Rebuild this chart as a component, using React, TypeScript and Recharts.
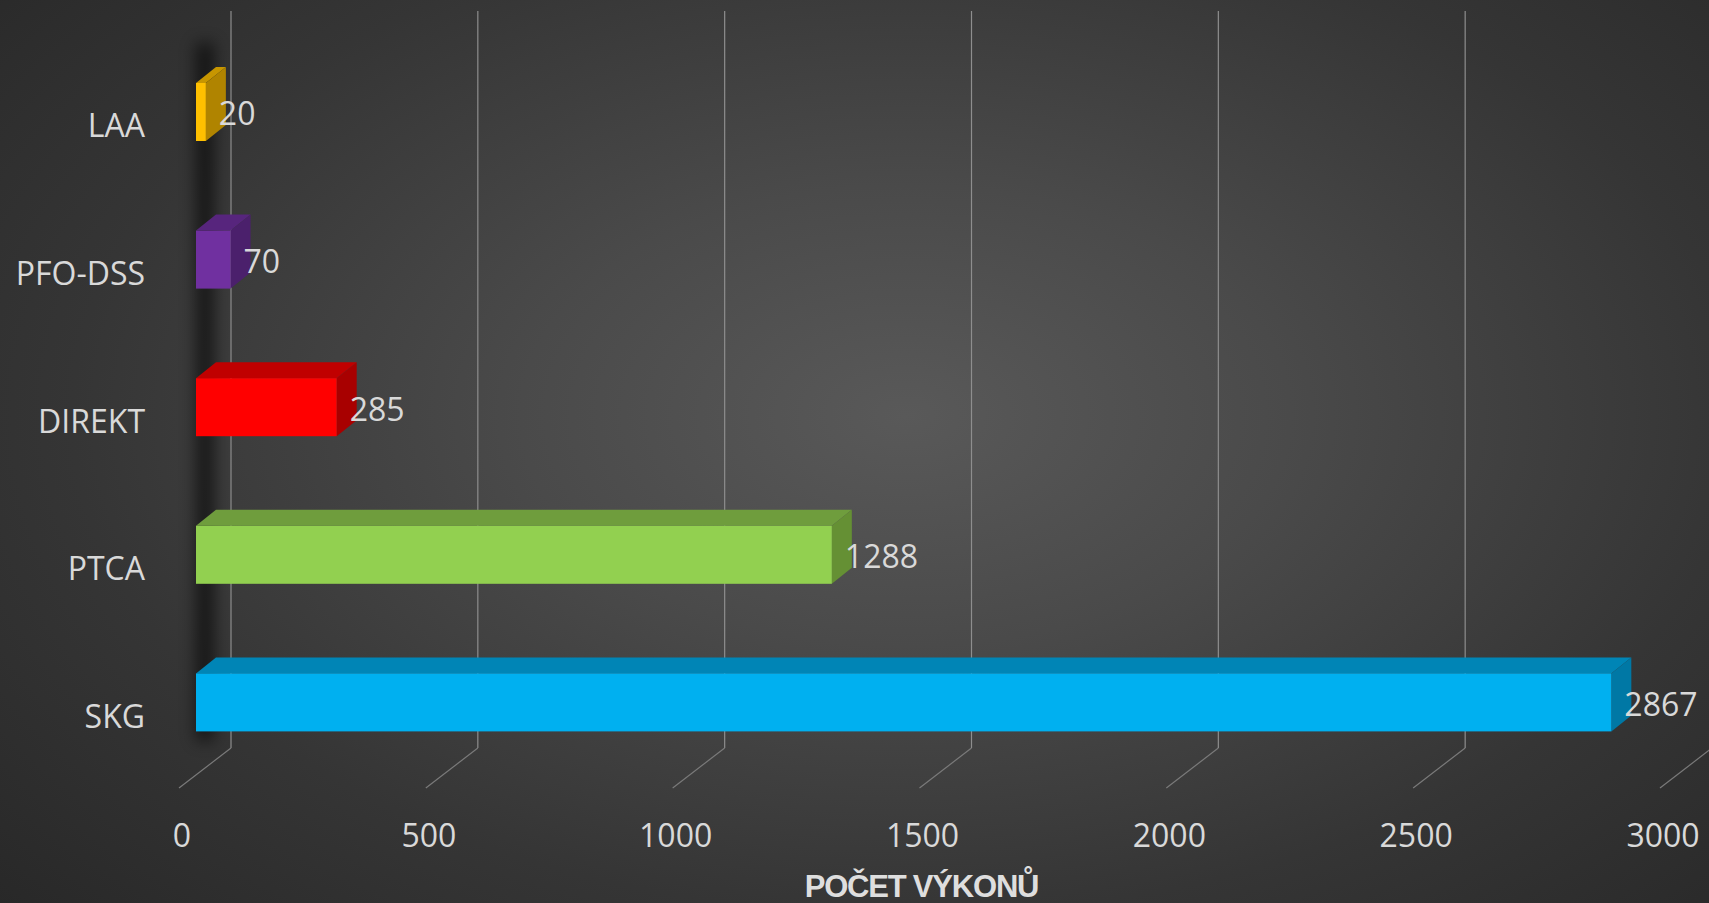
import React from 'react';
import { BarChart, Bar, XAxis, YAxis, CartesianGrid, LabelList, Label } from 'recharts';

const categories = ['LAA', 'PFO-DSS', 'DIREKT', 'PTCA', 'SKG'];
const values = [20, 70, 285, 1288, 2867];
const xTicks = [0, 500, 1000, 1500, 2000, 2500, 3000];
const axisTitle = 'POČET VÝKONŮ';

const frontColors = ['#FFC000', '#7030A0', '#FF0000', '#92D050', '#00B0F0'];
const topColors = ['#C79600', '#57257D', '#C00000', '#6F9D3D', '#0085B6'];
const sideColors = ['#B08400', '#4B206C', '#A80000', '#659034', '#0078A5'];

const data = categories.map((name, i) => ({ name, value: values[i] }));

const DX = 20;
const DY = 16;
const TEXT = '#d9d9d9';
const FONT = '"Open Sans", sans-serif';

const Bar3D = (props: any) => {
  const { x, y, width, height, index } = props;
  const w = Math.max(width, 0);
  return (
    <g>
      <polygon
        points={`${x},${y} ${x + DX},${y - DY} ${x + w + DX},${y - DY} ${x + w},${y}`}
        fill={topColors[index]}
      />
      <polygon
        points={`${x + w},${y} ${x + w + DX},${y - DY} ${x + w + DX},${y + height - DY} ${x + w},${y + height}`}
        fill={sideColors[index]}
      />
      <rect x={x} y={y} width={w} height={height} fill={frontColors[index]} />
    </g>
  );
};

const gridLine = (props: any) => {
  const { x1, y1, y2, index } = props;
  const gx = x1 + 35;
  const top = y1 - 27;
  const bottom = y2 - 28;
  return (
    <g key={`gl-${index}`}>
      {index === 0 && (
        <>
          <defs>
            <filter id="wallShadow" x="-200%" y="-20%" width="500%" height="140%">
              <feGaussianBlur stdDeviation="8" />
            </filter>
          </defs>
          <rect x={x1} y={y1 + 5} width={18} height={y2 - y1 - 40} fill="#000" opacity={0.6} filter="url(#wallShadow)" />
        </>
      )}
      <line x1={gx} y1={top} x2={gx} y2={bottom} stroke="#8e8e8e" strokeWidth={1.2} />
      <line x1={gx} y1={bottom} x2={x1 - 17} y2={bottom + 40} stroke="#7a7a7a" strokeWidth={1.2} />
    </g>
  );
};

const XTick = (props: any) => {
  const { x, y, payload } = props;
  return (
    <text x={x - 14} y={y + 50} textAnchor="middle" dominantBaseline="central" fill={TEXT} fontSize={32} fontFamily={FONT}>
      {payload.value}
    </text>
  );
};

const YTick = (props: any) => {
  const { x, y, payload } = props;
  return (
    <text x={x} y={y + 13} textAnchor="end" dominantBaseline="central" fill={TEXT} fontSize={32} fontFamily={FONT}>
      {payload.value}
    </text>
  );
};

const Title = (props: any) => {
  const { viewBox } = props;
  return (
    <text
      x={viewBox.x + viewBox.width / 2 - 15}
      y={viewBox.y + viewBox.height - 6}
      textAnchor="middle"
      fill="#dedede"
      fontSize={31}
      fontWeight="bold"
      letterSpacing={-1.2}
      fontFamily='"Liberation Sans", Arial, sans-serif'
    >
      {axisTitle}
    </text>
  );
};

export default function App() {
  return (
    <div
      style={{
        width: 1709,
        height: 903,
        background: 'radial-gradient(ellipse 75% 85% at 53% 46%, #595959 0%, #4a4a4a 30%, #353535 65%, #262626 100%)',
      }}
    >
      <style>{`body{margin:0}`}</style>
      <BarChart
        width={1709}
        height={903}
        data={data}
        layout="vertical"
        margin={{ top: 38, right: 32, bottom: 0, left: 0 }}
      >
        <CartesianGrid horizontal={false} vertical={gridLine} />
        <XAxis
          type="number"
          domain={[0, 3000]}
          ticks={xTicks}
          axisLine={false}
          tickLine={false}
          height={127}
          tick={<XTick />}
          interval={0}
        >
          <Label content={<Title />} />
        </XAxis>
        <YAxis
          type="category"
          dataKey="name"
          width={196}
          axisLine={false}
          tickLine={false}
          tickMargin={45}
          tick={<YTick />}
          interval={0}
        />
        <Bar dataKey="value" barSize={58} shape={<Bar3D />} isAnimationActive={false}>
          <LabelList dataKey="value" position="right" offset={13} dy={2} fill={TEXT} fontSize={32} fontFamily={FONT} />
        </Bar>
      </BarChart>
    </div>
  );
}
